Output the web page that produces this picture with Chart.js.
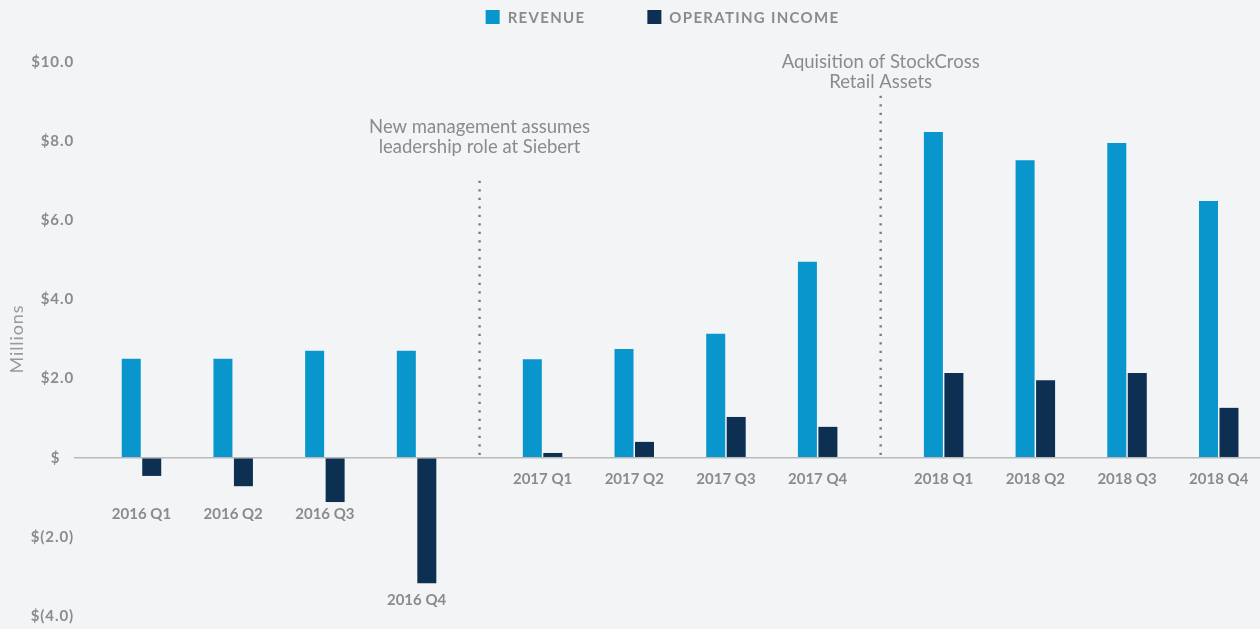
<!DOCTYPE html>
<html>
<head>
<meta charset="utf-8">
<script src="https://cdn.jsdelivr.net/npm/chart.js@4.4.1/dist/chart.umd.min.js"></script>
<style>
html,body{margin:0;padding:0;background:#f3f4f6;overflow:hidden}
canvas{display:block}
</style>
</head>
<body>
<canvas id="c" width="1260" height="629"></canvas>
<script>
// ---- data ----
const categories = ['2016 Q1','2016 Q2','2016 Q3','2016 Q4','2017 Q1','2017 Q2','2017 Q3','2017 Q4','2018 Q1','2018 Q2','2018 Q3','2018 Q4'];
const revenue = [2.50, 2.50, 2.70, 2.70, 2.49, 2.75, 3.13, 4.95, 8.23, 7.52, 7.95, 6.49];
const operatingIncome = [-0.46, -0.72, -1.12, -3.17, 0.12, 0.40, 1.03, 0.78, 2.14, 1.96, 2.14, 1.26];
const seriesNames = ['REVENUE', 'OPERATING INCOME'];
const eventNotes = [
  ['New management assumes', 'leadership role at Siebert'],
  ['Aquisition of StockCross', 'Retail Assets']
];
const yTitle = 'Millions';

// ---- layout helpers ----
const GROUP_SIZE = 4;
const GROUP_GAP = 0.374;
const xAt = i => i + Math.floor(i / GROUP_SIZE) * GROUP_GAP;

const fmt = v => v === 0 ? '$   ' : (v < 0 ? '$(' + Math.abs(v).toFixed(1) + ')' : '$' + v.toFixed(1));

const GRAY = '#8b8b8b';

const decor = {
  id: 'decor',
  beforeDraw(chart) {
    chart.ctx.letterSpacing = '0.9px';
  },
  afterDraw(chart, args, o) {
    const {ctx, scales: {x, y}, chartArea} = chart;
    const zero = y.getPixelForValue(0);
    ctx.save();
    ctx.letterSpacing = '0px';

    // category labels
    ctx.font = 'bold 15px Lato';
    ctx.fillStyle = GRAY;
    ctx.textAlign = 'center';
    ctx.textBaseline = 'middle';
    categories.forEach((c, i) => {
      ctx.fillText(c, x.getPixelForValue(xAt(i)), zero + o.labelOffsets[i]);
    });

    // event markers
    o.events.forEach((ev, k) => {
      const px = (x.getPixelForValue(xAt(ev.after)) + x.getPixelForValue(xAt(ev.after + 1))) / 2;
      ctx.save();
      ctx.strokeStyle = '#7c7c7c';
      ctx.lineWidth = 2.4;
      ctx.setLineDash([2.4, 6.1]);
      ctx.beginPath();
      ctx.moveTo(px, y.getPixelForValue(ev.lineTop));
      ctx.lineTo(px, zero);
      ctx.stroke();
      ctx.restore();
      ctx.font = '18.5px Lato';
      ctx.fillStyle = GRAY;
      ctx.textAlign = 'center';
      ctx.textBaseline = 'middle';
      const ty = y.getPixelForValue(ev.textTop);
      eventNotes[k].forEach((line, j) => ctx.fillText(line, px, ty + j * 20));
    });

    // legend
    ctx.font = 'bold 15px Lato';
    ctx.letterSpacing = '1.3px';
    ctx.textAlign = 'left';
    ctx.textBaseline = 'middle';
    const box = 14, gap = 8, itemGap = 62;
    const widths = chart.data.datasets.map(d => ctx.measureText(d.label).width);
    const total = widths.reduce((a, w) => a + box + gap + w, 0) + itemGap * (widths.length - 1);
    let lx = (chartArea.left + chartArea.right) / 2 + o.legendShift - total / 2;
    chart.data.datasets.forEach((d, i) => {
      ctx.fillStyle = d.backgroundColor;
      ctx.fillRect(lx, o.legendY - box / 2, box, box);
      ctx.fillStyle = GRAY;
      ctx.fillText(d.label, lx + box + gap, o.legendY + 1);
      lx += box + gap + widths[i] + itemGap;
    });
    ctx.restore();
  }
};

new Chart(document.getElementById('c'), {
  type: 'bar',
  data: {
    datasets: [
      { label: seriesNames[0], data: revenue.map((v, i) => ({x: xAt(i), y: v})), backgroundColor: '#0896cd' },
      { label: seriesNames[1], data: operatingIncome.map((v, i) => ({x: xAt(i), y: v})), backgroundColor: '#0d2f52' }
    ]
  },
  options: {
    responsive: false,
    animation: false,
    devicePixelRatio: 1,
    layout: { padding: { top: 62, bottom: 13, left: 0, right: 0 } },
    datasets: { bar: { categoryPercentage: 0.447, barPercentage: 0.927 } },
    plugins: {
      legend: { display: false },
      tooltip: { enabled: false },
      decor: {
        labelOffsets: [56, 56, 56, 142, 21, 21, 21, 21, 21, 21, 21, 21],
        events: [
          { after: 3, lineTop: 7.0, textTop: 8.36 },
          { after: 7, lineTop: 9.15, textTop: 10.0 }
        ],
        legendY: 17,
        legendShift: -4.5
      }
    },
    scales: {
      x: {
        type: 'linear',
        display: false,
        min: -0.736,
        max: 12.198,
        afterBuildTicks: a => { a.ticks = []; }
      },
      y: {
        min: -4,
        max: 10,
        border: { display: false },
        grid: {
          drawTicks: false,
          lineWidth: 1.5,
          color: c => (c.tick && c.tick.value === 0) ? '#b9b9bb' : 'rgba(0,0,0,0)'
        },
        ticks: {
          stepSize: 2,
          padding: 0,
          color: GRAY,
          font: { family: 'Lato', size: 15, weight: 'bold' },
          callback: v => fmt(v)
        },
        title: {
          display: true,
          text: yTitle,
          color: '#9a9a9a',
          font: { family: 'Lato', size: 18 },
          padding: { top: 6, bottom: 0 }
        },
        afterFit: a => { a.width = 74; }
      }
    }
  },
  plugins: [decor]
});
</script>
</body>
</html>
